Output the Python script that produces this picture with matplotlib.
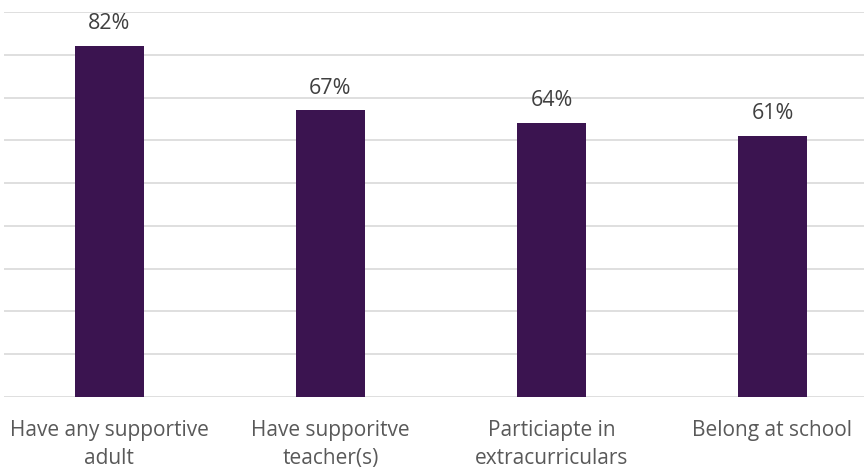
import matplotlib
matplotlib.use('Agg')
import matplotlib.pyplot as plt

categories = ['Have any supportive\nadult', 'Have supporitve\nteacher(s)',
              'Particiapte in\nextracurriculars', 'Belong at school']
values = [82, 67, 64, 61]
value_labels = ['82%', '67%', '64%', '61%']

plt.rcParams['font.family'] = ['Open Sans', 'DejaVu Sans']

fig = plt.figure(figsize=(8.64, 4.68), dpi=100)
ax = fig.add_axes([4 / 864, 71 / 468, 860 / 864, 385 / 468])

x = range(len(categories))
bars = ax.bar(x, values, width=0.312, color='#3b1450', zorder=3)

for b, lab in zip(bars, value_labels):
    ax.annotate(lab, (b.get_x() + b.get_width() / 2, b.get_height()),
                xytext=(0, 8.5), textcoords='offset points', ha='center',
                va='bottom', fontsize=15.5, color='#404040')

ax.set_xlim(-0.477, 3.414)
ax.set_ylim(0, 90)
ax.set_yticks(range(0, 91, 10))
ax.set_yticklabels([])
ax.tick_params(axis='y', length=0)
ax.tick_params(axis='x', length=0, pad=16.5)
ax.set_xticks(list(x))
ax.set_xticklabels(categories, fontsize=15, color='#595959', linespacing=1.45)
ax.grid(axis='y', color='#d9d9d9', linewidth=1.2, zorder=0)
for s in ax.spines.values():
    s.set_visible(False)

fig.savefig('out.png', dpi=100)
